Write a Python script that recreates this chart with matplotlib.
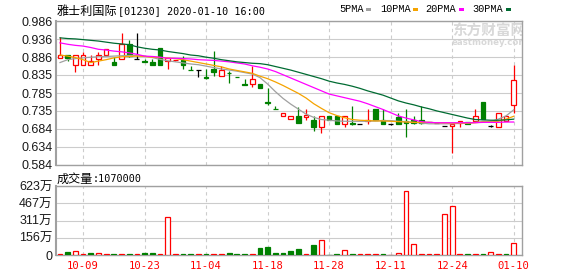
import matplotlib
matplotlib.use('Agg')
import matplotlib.pyplot as plt
from matplotlib.patches import Rectangle
import numpy as np

W, H = 578, 276

# 日K数据 (从图上读的)
opens = [0.882, 0.890, 0.863, 0.863, 0.863, 0.881, 0.892, 0.872, 0.881, 0.921,
         0.880, 0.873, 0.872, 0.910, 0.875, 0.876, 0.877, 0.849, 0.849, 0.829,
         0.851, 0.832, 0.842, 0.830, 0.809, 0.811, 0.810, 0.759, 0.741, 0.722,
         0.712, 0.721, 0.719, 0.710, 0.691, 0.721, 0.721, 0.699, 0.700, 0.698,
         0.706, 0.741, 0.711, 0.699, 0.719, 0.708, 0.711, 0.709, 0.703, 0.702,
         0.694, 0.692, 0.702, 0.703, 0.707, 0.761, 0.694, 0.691, 0.708, 0.752]
highs = [0.942, 0.890, 0.891, 0.899, 0.891, 0.899, 0.909, 0.886, 0.953, 0.934,
         0.952, 0.881, 0.881, 0.910, 0.882, 0.877, 0.888, 0.860, 0.849, 0.851,
         0.902, 0.860, 0.846, 0.830, 0.823, 0.860, 0.810, 0.799, 0.750, 0.728,
         0.721, 0.747, 0.741, 0.720, 0.720, 0.721, 0.721, 0.720, 0.748, 0.698,
         0.741, 0.741, 0.740, 0.699, 0.729, 0.741, 0.720, 0.748, 0.703, 0.702,
         0.694, 0.699, 0.708, 0.703, 0.741, 0.761, 0.697, 0.728, 0.722, 0.862]
lows = [0.882, 0.874, 0.843, 0.863, 0.863, 0.863, 0.892, 0.862, 0.881, 0.886,
        0.880, 0.871, 0.862, 0.862, 0.852, 0.874, 0.851, 0.848, 0.830, 0.825,
        0.832, 0.832, 0.813, 0.829, 0.808, 0.801, 0.799, 0.751, 0.740, 0.722,
        0.712, 0.700, 0.711, 0.680, 0.672, 0.711, 0.699, 0.691, 0.697, 0.698,
        0.699, 0.711, 0.699, 0.695, 0.699, 0.661, 0.699, 0.699, 0.703, 0.702,
        0.694, 0.618, 0.691, 0.699, 0.707, 0.712, 0.691, 0.691, 0.708, 0.730]
closes = [0.891, 0.883, 0.891, 0.891, 0.874, 0.891, 0.909, 0.862, 0.921, 0.888,
          0.880, 0.871, 0.862, 0.862, 0.882, 0.877, 0.862, 0.848, 0.849, 0.828,
          0.844, 0.849, 0.841, 0.829, 0.808, 0.823, 0.799, 0.758, 0.740, 0.728,
          0.721, 0.700, 0.723, 0.691, 0.720, 0.711, 0.699, 0.720, 0.698, 0.698,
          0.709, 0.711, 0.699, 0.699, 0.699, 0.700, 0.702, 0.702, 0.703, 0.702,
          0.694, 0.699, 0.708, 0.699, 0.720, 0.712, 0.694, 0.728, 0.720, 0.822]

# 成交量 单位:万
vols = [9, 27, 36, 9, 18, 18, 9, 9, 9, 9,
        9, 18, 18, 9, 340, 9, 9, 9, 9, 9,
        9, 9, 18, 9, 9, 9, 63, 72, 18, 18,
        36, 54, 9, 90, 132, 0, 9, 42, 9, 9,
        9, 9, 9, 0, 18, 575, 96, 9, 9, 9,
        370, 442, 9, 9, 9, 9, 24, 9, 9, 107]
vol_up = [1, 0, 1, 1, 0, 1, 1, 0, 1, 0,
          1, 0, 0, 1, 1, 1, 0, 0, 1, 0,
          1, 1, 0, 0, 0, 1, 0, 0, 0, 0,
          0, 0, 1, 0, 1, 0, 0, 1, 0, 1,
          1, 1, 0, 1, 1, 1, 1, 1, 1, 1,
          1, 1, 1, 0, 1, 0, 1, 1, 0, 1]

# 均线
ma5 = [0.870, 0.878, 0.881, 0.883, 0.885, 0.886, 0.887, 0.888, 0.889, 0.890,
       0.890, 0.888, 0.884, 0.879, 0.875, 0.872, 0.869, 0.866, 0.864, 0.860,
       0.856, 0.852, 0.849, 0.846, 0.842, 0.838, 0.828, 0.810, 0.789, 0.770,
       0.754, 0.740, 0.726, 0.717, 0.711, 0.709, 0.707, 0.706, 0.706, 0.706,
       0.706, 0.707, 0.708, 0.708, 0.706, 0.705, 0.703, 0.701, 0.699, 0.699,
       0.699, 0.699, 0.700, 0.701, 0.703, 0.705, 0.705, 0.712, 0.721, 0.738]
ma10 = [0.891, 0.888, 0.884, 0.878, 0.870, 0.874, 0.878, 0.883, 0.886, 0.887,
        0.888, 0.887, 0.885, 0.884, 0.883, 0.881, 0.878, 0.874, 0.870, 0.866,
        0.862, 0.858, 0.852, 0.848, 0.844, 0.840, 0.832, 0.825, 0.816, 0.806,
        0.795, 0.784, 0.771, 0.755, 0.742, 0.730, 0.722, 0.716, 0.711, 0.709,
        0.708, 0.707, 0.707, 0.706, 0.705, 0.704, 0.703, 0.703, 0.703, 0.702,
        0.702, 0.701, 0.701, 0.701, 0.702, 0.704, 0.704, 0.706, 0.712, 0.720]
ma20 = [0.925, 0.921, 0.918, 0.916, 0.912, 0.907, 0.905, 0.902, 0.900, 0.897,
        0.893, 0.888, 0.887, 0.885, 0.882, 0.882, 0.881, 0.880, 0.878, 0.877,
        0.876, 0.874, 0.872, 0.869, 0.866, 0.861, 0.857, 0.852, 0.845, 0.836,
        0.827, 0.818, 0.809, 0.800, 0.791, 0.782, 0.777, 0.772, 0.767, 0.762,
        0.755, 0.747, 0.739, 0.730, 0.721, 0.715, 0.710, 0.705, 0.703, 0.702,
        0.702, 0.702, 0.702, 0.702, 0.702, 0.703, 0.703, 0.703, 0.704, 0.704]
ma30 = [0.939, 0.937, 0.936, 0.934, 0.932, 0.930, 0.927, 0.924, 0.922, 0.920,
        0.914, 0.910, 0.907, 0.905, 0.901, 0.898, 0.895, 0.891, 0.889, 0.885,
        0.882, 0.878, 0.875, 0.872, 0.870, 0.868, 0.867, 0.864, 0.859, 0.854,
        0.849, 0.843, 0.837, 0.831, 0.825, 0.818, 0.813, 0.809, 0.804, 0.798,
        0.791, 0.785, 0.779, 0.771, 0.763, 0.757, 0.752, 0.746, 0.741, 0.735,
        0.730, 0.725, 0.720, 0.715, 0.711, 0.710, 0.709, 0.709, 0.710, 0.712]

date_idx = [3, 11, 19, 27, 35, 43, 51, 59]
date_labels = ['10-09', '10-23', '11-04', '11-18', '11-28', '12-11', '12-24', '01-10']
price_labels = ['0.584', '0.634', '0.684', '0.735', '0.785', '0.835', '0.886', '0.936', '0.986']
vol_labels = ['0', '156万', '311万', '467万', '623万']

RED = '#ff0000'
GREEN = '#008000'


def fx(x):
    return x / W


def fy(y):
    return 1 - y / H


fig = plt.figure(figsize=(W / 100, H / 100), dpi=100)
fig.patch.set_facecolor('white')
ax = fig.add_axes([fx(56), fy(165), 466 / W, 144 / H])
axv = fig.add_axes([fx(56), fy(255), 466 / W, 69 / H])

n = len(closes)
x = np.arange(n)

for a in (ax, axv):
    a.set_xlim(-0.52, n + 0.08)
    a.set_xticks(date_idx)
    a.grid(axis='x', color='#cccccc', linestyle=(0, (3, 3)), linewidth=0.8)
    a.grid(axis='y', color='#cccccc', linestyle='-', linewidth=0.8)
    a.set_axisbelow(True)
    a.tick_params(length=0)
    for s in a.spines.values():
        s.set_color('#a0a0a0')
        s.set_linewidth(1.0)
    a.spines['left'].set_linewidth(1.5)

# K线
ax.set_ylim(0.584, 0.986)
ax.set_yticks(np.linspace(0.584, 0.986, 9))
ax.set_yticklabels(price_labels, fontsize=9, family='Liberation Sans', color='#1a1a1a')
ax.set_xticklabels([])
ax.tick_params(axis='y', pad=2.5)

for i in range(n):
    o, h, l, c = opens[i], highs[i], lows[i], closes[i]
    if c > o:
        col = RED
    elif c < o:
        col = GREEN
    else:
        col = 'black'
    ax.vlines(i, l, h, color=col, linewidth=0.9, zorder=2)
    if c > o:
        ax.bar(i, c - o, bottom=o, width=0.6, facecolor='white', edgecolor=RED, linewidth=0.9, zorder=3)
    elif c < o:
        ax.bar(i, o - c, bottom=c, width=0.6, facecolor=GREEN, edgecolor=GREEN, linewidth=0.9, zorder=3)
    else:
        ax.hlines(o, i - 0.33, i + 0.33, color='black', linewidth=0.9, zorder=3)

ax.plot(x, ma5, color='#a0a0a0', linewidth=0.9, zorder=4)
ax.plot(x, ma10, color='#f5a300', linewidth=0.9, zorder=4)
ax.plot(x, ma20, color='#ff00ff', linewidth=0.9, zorder=4)
ax.plot(x, ma30, color='#006b32', linewidth=0.9, zorder=4)

# 水印
ax.text(fx(452), fy(31), '东方财富网', transform=fig.transFigure, clip_on=True,
        fontsize=10.5, fontweight='bold', family='Noto Sans CJK SC', color='#d8d8d8',
        va='center', ha='left', zorder=1)
ax.text(fx(452), fy(42.5), 'eastmoney.com', transform=fig.transFigure, clip_on=True,
        fontsize=6.2, fontweight='bold', family='DejaVu Sans', color='#d8d8d8',
        va='center', ha='left', zorder=1)

# 成交量
axv.set_ylim(0, 623)
axv.set_yticks(np.linspace(0, 623, 5))
axv.set_yticklabels(vol_labels, fontsize=9, family=['Liberation Sans', 'Noto Sans CJK SC'], color='#1a1a1a')
axv.tick_params(axis='y', pad=2.5)
axv.set_xticklabels(date_labels, color=RED, family='DejaVu Sans Mono', fontsize=7.6)
axv.tick_params(axis='x', pad=4)
fc = ['white' if u else GREEN for u in vol_up]
ec = [RED if u else GREEN for u in vol_up]
axv.bar(x, vols, width=0.62, facecolor=fc, edgecolor=ec, linewidth=0.9, zorder=3)

# 标题
fig.text(fx(57), fy(14.5), '雅士利国际', family='Noto Sans CJK SC', fontsize=8.7, va='baseline')
fig.text(fx(118), fy(14.5), '[01230] 2020-01-10 16:00', family='DejaVu Sans Mono', fontsize=7.3, va='baseline')
fig.text(fx(57), fy(182.5), '成交量', family='Noto Sans CJK SC', fontsize=8.7, va='baseline')
fig.text(fx(93), fy(182.5), ':1070000', family='DejaVu Sans Mono', fontsize=7.3, va='baseline')

# 图例
legend = [('5PMA', 339, 366, '#a0a0a0'), ('10PMA', 380, 413, '#f5a300'),
          ('20PMA', 425, 459, '#ff00ff'), ('30PMA', 472, 506, '#006b32')]
for name, tx, sx, col in legend:
    fig.text(fx(tx), fy(9.5), name, family='Liberation Mono', fontsize=7.4, va='center')
    fig.add_artist(Rectangle((fx(sx), fy(11)), 5 / W, 3 / H, transform=fig.transFigure,
                             facecolor=col, edgecolor='none'))

fig.savefig('out.png', dpi=100)
